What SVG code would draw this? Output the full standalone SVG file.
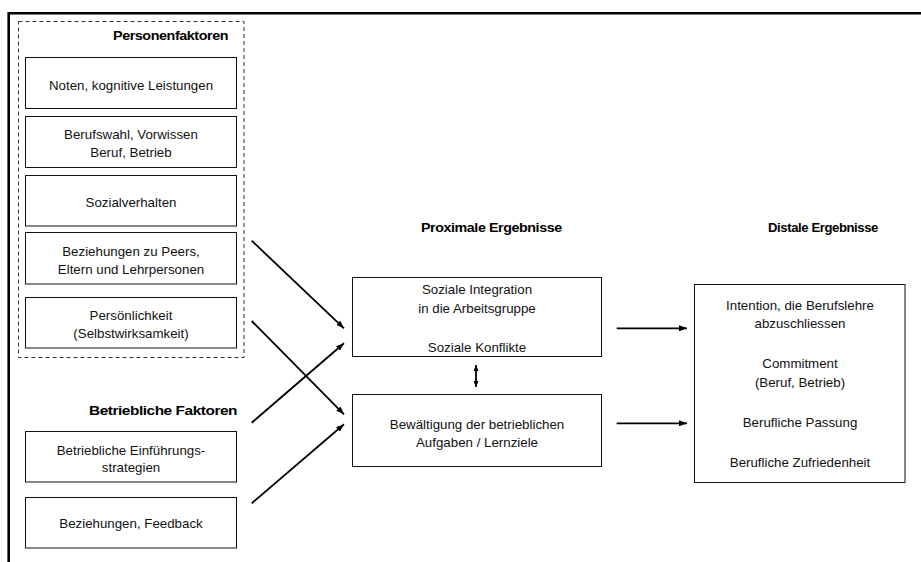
<svg xmlns="http://www.w3.org/2000/svg" width="921" height="562" viewBox="0 0 921 562">
<style>
.frame{fill:none;stroke:#000;stroke-width:2.6}
.box{fill:#fff;stroke:#111;stroke-width:1}
.dash{fill:none;stroke:#333;stroke-width:1;stroke-dasharray:4 3}
.t{font-family:"Liberation Sans",Arial,sans-serif;font-size:13.3px;fill:#111;text-anchor:middle}
.h{font-family:"Liberation Sans",Arial,sans-serif;font-size:13.3px;font-weight:bold;fill:#000;letter-spacing:-0.4px}
.c{fill:none;stroke:#000;stroke-width:1.8}
</style>
<defs>
<marker id="ah" viewBox="0 0 8 6" refX="8" refY="3" markerWidth="8" markerHeight="6" markerUnits="userSpaceOnUse" orient="auto">
<path d="M0,0 L8,3 L0,6 z" fill="#000"/>
</marker>
<marker id="ahs" viewBox="0 0 6 5" refX="6" refY="2.5" markerWidth="6" markerHeight="5" markerUnits="userSpaceOnUse" orient="auto-start-reverse">
<path d="M0,0 L6,2.5 L0,5 z" fill="#000"/>
</marker>
</defs>
<rect width="921" height="562" fill="#fff"/>
<path class="frame" d="M8.7,562 V13.3 H921"/>

<g id="personenfaktoren">
<rect class="dash" x="18.5" y="21.5" width="225.5" height="336"/>
<text class="h" x="113" y="40" textLength="115" lengthAdjust="spacingAndGlyphs">Personenfaktoren</text>
</g>

<g id="noten">
<rect class="box" x="25.5" y="57.5" width="211" height="51"/>
<text class="t" x="131" y="90">Noten, kognitive Leistungen</text>
</g>
<g id="berufswahl">
<rect class="box" x="25.5" y="116.5" width="211" height="51"/>
<text class="t" x="131" y="139.3">Berufswahl, Vorwissen</text>
<text class="t" x="131" y="157.3">Beruf, Betrieb</text>
</g>
<g id="sozialverhalten">
<rect class="box" x="25.5" y="175.5" width="211" height="50.5"/>
<text class="t" x="131" y="206.7">Sozialverhalten</text>
</g>
<g id="beziehungen-peers">
<rect class="box" x="25.5" y="232.5" width="211" height="51.5"/>
<text class="t" x="131" y="256">Beziehungen zu Peers,</text>
<text class="t" x="131" y="274.3">Eltern und Lehrpersonen</text>
</g>
<g id="persoenlichkeit">
<rect class="box" x="25.5" y="297.5" width="211" height="50.5"/>
<text class="t" x="131" y="320">Persönlichkeit</text>
<text class="t" x="131" y="338.3">(Selbstwirksamkeit)</text>
</g>

<g id="betriebliche-faktoren">
<text class="h" x="89" y="415" textLength="148" lengthAdjust="spacingAndGlyphs">Betriebliche Faktoren</text>
</g>
<g id="einfuehrung">
<rect class="box" x="25.5" y="431.5" width="211" height="50.5"/>
<text class="t" x="131" y="455">Betriebliche Einführungs-</text>
<text class="t" x="131" y="471.7">strategien</text>
</g>
<g id="feedback">
<rect class="box" x="25.5" y="497.5" width="211" height="50.5"/>
<text class="t" x="131" y="527.7">Beziehungen, Feedback</text>
</g>

<g id="proximale-titel">
<text class="h" x="421" y="231.7" textLength="140.7" lengthAdjust="spacingAndGlyphs">Proximale Ergebnisse</text>
</g>
<g id="soziale-integration">
<rect class="box" x="352.5" y="277.5" width="249" height="79"/>
<text class="t" x="477" y="294.3">Soziale Integration</text>
<text class="t" x="477" y="312.7">in die Arbeitsgruppe</text>
<text class="t" x="477" y="352">Soziale Konflikte</text>
</g>
<g id="bewaeltigung">
<rect class="box" x="352.5" y="394.5" width="249" height="72"/>
<text class="t" x="477" y="428.5">Bewältigung der betrieblichen</text>
<text class="t" x="477" y="446.5">Aufgaben / Lernziele</text>
</g>

<g id="distale-titel">
<text class="h" x="768" y="231.7" textLength="110" lengthAdjust="spacingAndGlyphs">Distale Ergebnisse</text>
</g>
<g id="distale-ergebnisse">
<rect class="box" x="694.5" y="284.5" width="210.5" height="198"/>
<text class="t" x="800" y="310">Intention, die Berufslehre</text>
<text class="t" x="800" y="328">abzuschliessen</text>
<text class="t" x="800" y="368">Commitment</text>
<text class="t" x="800" y="386.7">(Beruf, Betrieb)</text>
<text class="t" x="800" y="426.7">Berufliche Passung</text>
<text class="t" x="800" y="466.7">Berufliche Zufriedenheit</text>
</g>

<g id="connectors">
<line class="c" x1="251.7" y1="240.7" x2="344" y2="328.3" marker-end="url(#ah)"/>
<line class="c" x1="251.7" y1="321" x2="344" y2="414.3" marker-end="url(#ah)"/>
<line class="c" x1="251.7" y1="422.7" x2="344" y2="343.3" marker-end="url(#ah)"/>
<line class="c" x1="251.7" y1="503.3" x2="344" y2="424.3" marker-end="url(#ah)"/>
<line class="c" x1="476" y1="365" x2="476" y2="387" marker-start="url(#ahs)" marker-end="url(#ahs)"/>
<line class="c" x1="616.7" y1="328.3" x2="687" y2="328.3" marker-end="url(#ah)"/>
<line class="c" x1="616.7" y1="423.3" x2="687" y2="423.3" marker-end="url(#ah)"/>
</g>
</svg>
